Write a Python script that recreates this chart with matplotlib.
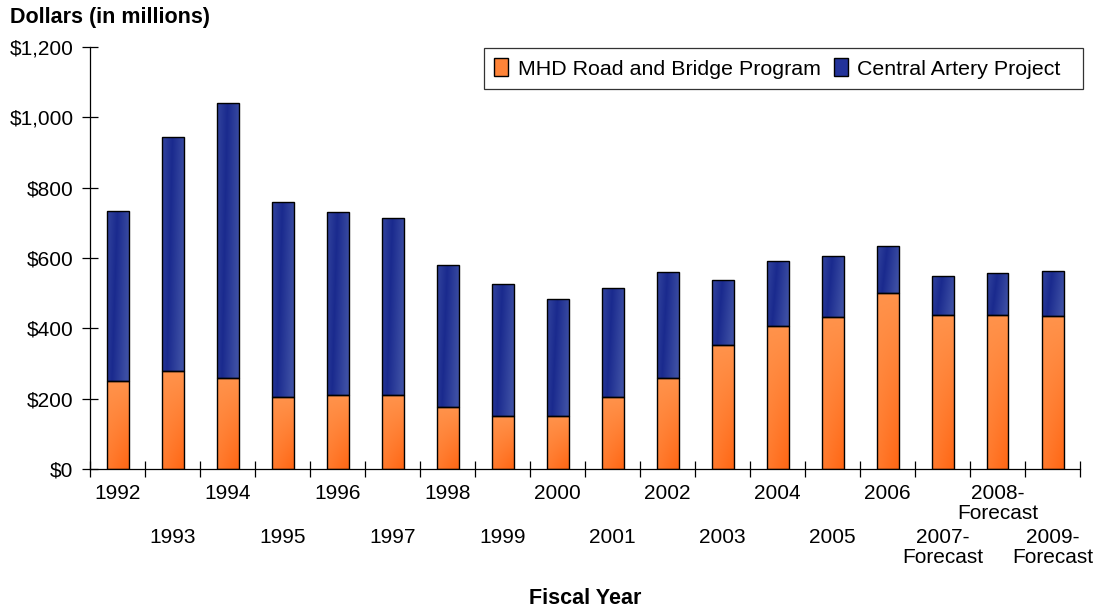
import matplotlib
matplotlib.use('Agg')
import matplotlib.pyplot as plt
from matplotlib.patches import Patch
from matplotlib.colors import to_rgb
import numpy as np

# --- data ---
years = ["1992", "1993", "1994", "1995", "1996", "1997", "1998", "1999", "2000",
         "2001", "2002", "2003", "2004", "2005", "2006",
         "2007-\nForecast", "2008-\nForecast", "2009-\nForecast"]
mhd = [250, 279, 259, 205, 210, 210, 176, 152, 152,
       206, 260, 353, 407, 431, 501, 438, 438, 435]
artery = [484, 665, 782, 553, 520, 505, 404, 374, 331,
          310, 301, 184, 184, 176, 133, 111, 119, 128]
y_ticks = [0, 200, 400, 600, 800, 1000, 1200]

ORANGE_LIGHT = "#FFA25E"
ORANGE_DARK = "#FF6614"
BLUE_LIGHT = "#3D4FA4"
BLUE_DARK = "#1A2A8E"

plt.rcParams['font.family'] = ['Liberation Sans', 'DejaVu Sans']


def make_gradient(c_light, c_dark, kind, n=64):
    yy, xx = np.mgrid[0:1:n * 1j, 0:1:n * 1j]
    if kind == "orange":
        t = np.clip(0.75 * yy + 0.35 * (1 - xx) * (1 - yy), 0, 1)
    else:
        # darker diagonal stripe, lighter edges
        t = np.clip(np.abs(xx - 0.35 - 0.25 * (yy - 0.5)) / 0.65, 0, 1)
    a = np.array(to_rgb(c_dark))
    b = np.array(to_rgb(c_light))
    return a[None, None, :] * (1 - t[..., None]) + b[None, None, :] * t[..., None]


def fill_bars(ax, bars, img):
    for bar in bars:
        x0, y0 = bar.get_xy()
        w, h = bar.get_width(), bar.get_height()
        im = ax.imshow(img, extent=[x0, x0 + w, y0, y0 + h], origin='lower',
                       aspect='auto', interpolation='bilinear', zorder=2)
        im.set_clip_path(bar)


fig = plt.figure(figsize=(11.05, 6.10), dpi=100)
ax = fig.add_axes([90 / 1105, 141 / 610, 990 / 1105, 422 / 610])

x = np.arange(len(years))
bw = 0.4
b1 = ax.bar(x, mhd, bw, facecolor='none', edgecolor='black', linewidth=1.0, zorder=3)
b2 = ax.bar(x, artery, bw, bottom=mhd, facecolor='none', edgecolor='black',
            linewidth=1.0, zorder=3)
fill_bars(ax, b1, make_gradient(ORANGE_LIGHT, ORANGE_DARK, "orange"))
fill_bars(ax, b2, make_gradient(BLUE_LIGHT, BLUE_DARK, "blue"))

ax.set_xlim(-0.5, len(years) - 0.5)
ax.set_ylim(0, 1200)

for s in ['top', 'right']:
    ax.spines[s].set_visible(False)
for s in ['left', 'bottom']:
    ax.spines[s].set_linewidth(0.9)

ax.set_yticks(y_ticks)
ax.set_yticklabels([f"${v:,}" for v in y_ticks], fontsize=15)
ax.tick_params(axis='y', direction='inout', length=11, width=0.9, pad=6.4)

# category boundaries get the tick marks
ax.set_xticks(np.arange(-0.5, len(years)), labels=[])
ax.tick_params(axis='x', which='major', direction='inout', length=12, width=0.9)

# staggered category labels
for i, lab in enumerate(years):
    off = 11 if i % 2 == 0 else 42.5
    ax.annotate(lab, xy=(i, 0), xycoords=('data', 'axes fraction'),
                xytext=(0, -off), textcoords='offset points',
                ha='center', va='top', fontsize=15, linespacing=1.06)

fig.text(10 / 1105, 1 - 18 / 610, "Dollars (in millions)", fontsize=15.5,
         fontweight='bold', ha='left', va='center')
fig.text(585 / 1105, 1 - 598 / 610, "Fiscal Year", fontsize=15.5,
         fontweight='bold', ha='center', va='center')

handles = [Patch(facecolor="#FF8438", edgecolor='black', linewidth=1.0),
           Patch(facecolor="#23339A", edgecolor='black', linewidth=1.0)]
leg = ax.legend(handles, ["MHD Road and Bridge Program", "Central Artery Project  "],
                ncol=2, loc='upper right', bbox_to_anchor=(993 / 990, 421 / 422),
                borderaxespad=0, fontsize=15.4, frameon=True, fancybox=False,
                edgecolor='black', handlelength=0.65, handleheight=0.9,
                handletextpad=0.45, columnspacing=0.6, borderpad=0.49)
leg.get_frame().set_linewidth(0.9)

fig.savefig("out.png", dpi=100)
